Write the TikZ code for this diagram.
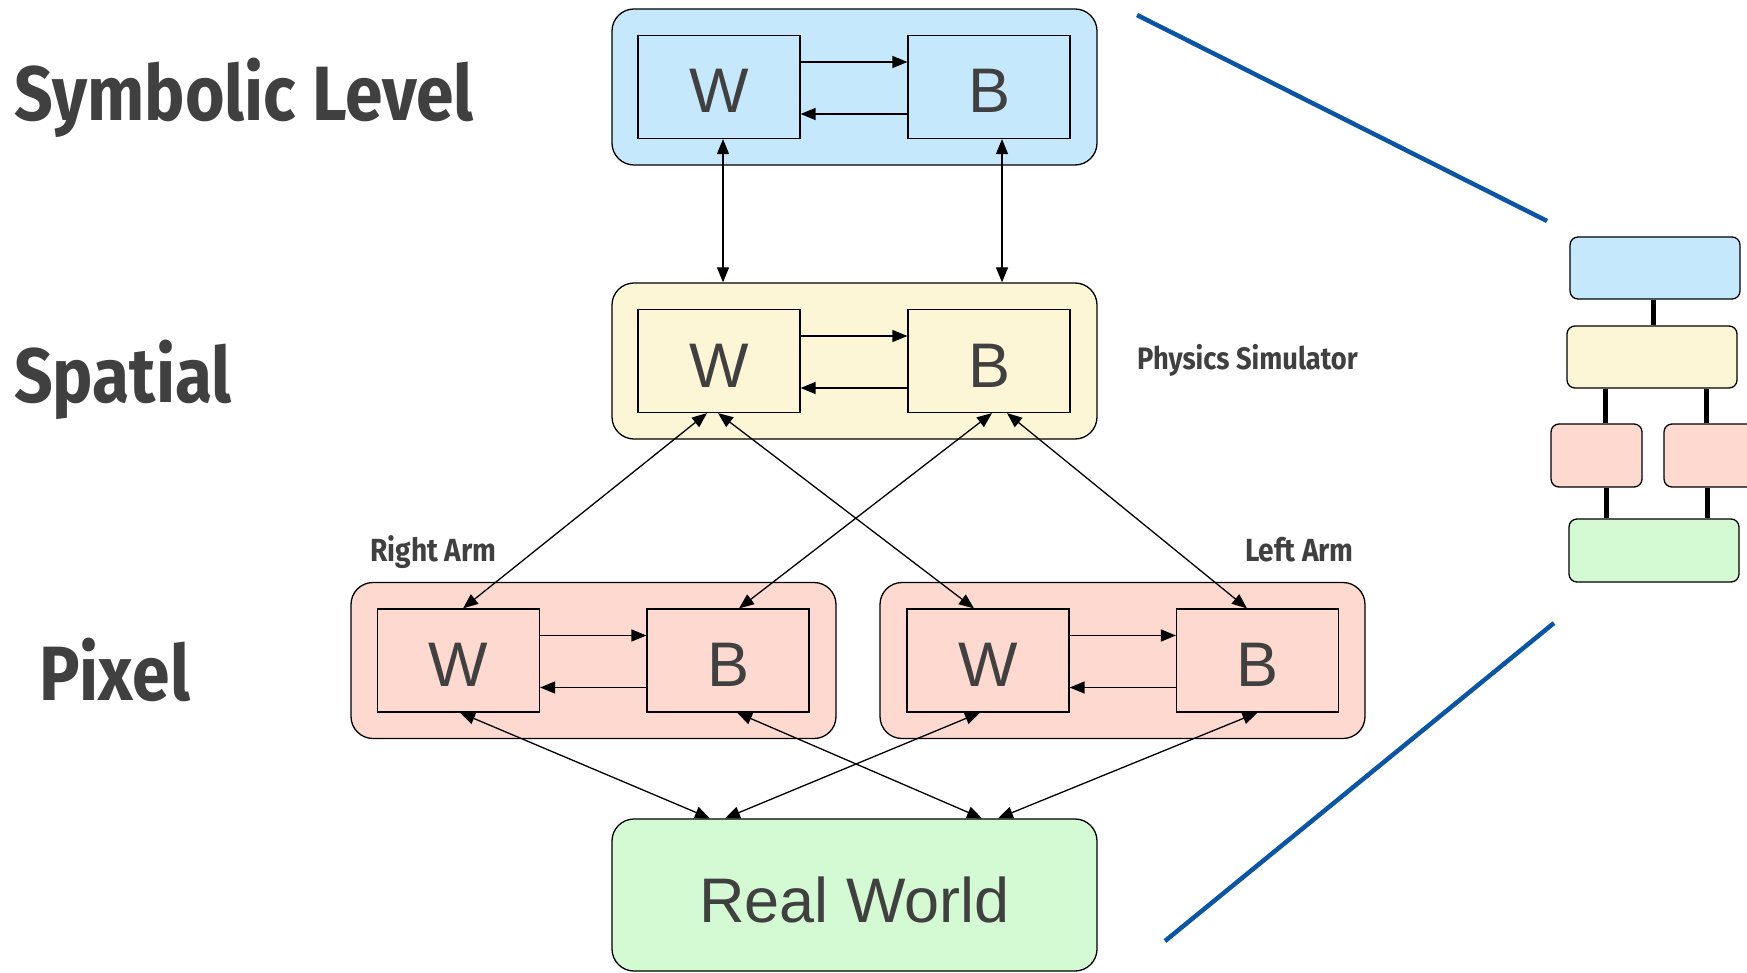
\documentclass[tikz,border=0pt]{standalone}
\usepackage{fontspec}
\setmainfont{Liberation Sans}
\newfontfamily\headfont{Fira Sans}[FakeStretch=0.88]
\usetikzlibrary{arrows.meta}
\definecolor{txt}{HTML}{404040}
\definecolor{cblue}{HTML}{C6E8FC}
\definecolor{cyellow}{HTML}{FDF6D6}
\definecolor{cpink}{HTML}{FDD9D0}
\definecolor{cgreen}{HTML}{D4FAD4}
\definecolor{lineblue}{HTML}{0A55A5}
\tikzset{
  outerbox/.style={draw=black, line width=1.3pt, rounded corners=22pt, minimum width=485pt, minimum height=156pt, inner sep=0pt},
  innerbox/.style={draw=black, line width=1.2pt, minimum width=162pt, minimum height=103pt, inner sep=0pt, text=txt, text height=52pt, text depth=0pt, font=\fontsize{63}{63}\selectfont},
  minibox/.style={draw=black, line width=1.3pt, rounded corners=8pt, inner sep=0pt},
  arr/.style={-{Triangle[length=15pt,width=12pt]}, line width=1.3pt},
  biarr/.style={{Triangle[length=15pt,width=12pt]}-{Triangle[length=15pt,width=12pt]}, line width=1.3pt},
  heading/.style={anchor=base west, inner sep=0pt, text=txt, font=\headfont\bfseries\fontsize{77}{77}\selectfont},
  sublabel/.style={anchor=base west, inner sep=0pt, text=txt, font=\headfont\bfseries\fontsize{31}{31}\selectfont},
  armlabel/.style={anchor=base west, inner sep=0pt, text=txt, font=\headfont\bfseries\fontsize{32}{32}\selectfont},
  thickline/.style={line width=5pt},
  zoomline/.style={draw=lineblue, line width=4.5pt}
}
\begin{document}
\begin{tikzpicture}[x=1pt,y=-1pt]
\clip (0,0) rectangle (1747,973);
\fill[white] (0,0) rectangle (1747,973);

% headings
\node[heading] (hsym) at (14,121) {Symbolic Level};
\node[heading] (hspa) at (14,402) {Spatial};
\node[heading] (hpix) at (39,700) {Pixel};
\node[sublabel] (lphys) at (1137,369) {Physics Simulator};
\node[armlabel] (lright) at (370,561) {Right Arm};
\node[armlabel] (lleft) at (1245,561) {Left Arm};

% symbolic level
\node[outerbox, fill=cblue] (symO) at (854.5,87) {};
\node[innerbox] (symW) at (719,87) {W};
\node[innerbox] (symB) at (989,87) {B};

% spatial level
\node[outerbox, fill=cyellow] (spaO) at (854.5,361) {};
\node[innerbox] (spaW) at (719,361) {W};
\node[innerbox] (spaB) at (989,361) {B};

% pixel level
\node[outerbox, fill=cpink] (pixL) at (593.5,660.5) {};
\node[innerbox] (plW) at (458.5,660.5) {W};
\node[innerbox] (plB) at (728,660.5) {B};
\node[outerbox, fill=cpink] (pixR) at (1122.5,660.5) {};
\node[innerbox] (prW) at (988,660.5) {W};
\node[innerbox] (prB) at (1257.5,660.5) {B};

% real world
\node[outerbox, fill=cgreen, minimum height=152pt, text=txt, text height=55pt, text depth=0pt, font=\fontsize{63}{63}\selectfont] (rw) at (854.5,895) {Real World};

% horizontal arrows inside boxes
\foreach \w/\b in {symW/symB, spaW/spaB, plW/plB, prW/prB}{
  \draw[arr] ([yshift=25pt]\w.east) -- ([yshift=25pt]\b.west);
  \draw[arr] ([yshift=-27pt]\b.west) -- ([yshift=-27pt]\w.east);
}

% symbolic <-> spatial
\draw[biarr] ([xshift=4pt]symW.south) -- ([xshift=4pt]symW.south |- spaO.north);
\draw[biarr] ([xshift=13pt]symB.south) -- ([xshift=13pt]symB.south |- spaO.north);

% spatial <-> pixel
\draw[biarr] ([xshift=-12pt]spaW.south) -- ([xshift=4.5pt]plW.north);
\draw[biarr] ([xshift=-1pt]spaW.south) -- ([xshift=-14pt]prW.north);
\draw[biarr] ([xshift=3pt]spaB.south) -- ([xshift=11pt]plB.north);
\draw[biarr] ([xshift=18pt]spaB.south) -- ([xshift=-10.5pt]prB.north);

% pixel <-> real world
\draw[biarr] ([xshift=1.5pt]plW.south) -- ([xshift=-144.5pt]rw.north);
\draw[biarr] ([xshift=-8pt]prW.south) -- ([xshift=-129.5pt]rw.north);
\draw[biarr] ([xshift=9pt]plB.south) -- ([xshift=127.5pt]rw.north);
\draw[biarr] (prB.south) -- ([xshift=143.5pt]rw.north);

% zoom lines
\coordinate (z1a) at (1137,15);
\coordinate (z1b) at (1547,221);
\coordinate (z2a) at (1165,941);
\coordinate (z2b) at (1554,623);
\draw[zoomline] (z1a) -- (z1b);
\draw[zoomline] (z2a) -- (z2b);

% mini diagram
\node[minibox, fill=cblue, minimum width=170pt, minimum height=62pt] (mb) at (1655,268) {};
\node[minibox, fill=cyellow, minimum width=170pt, minimum height=62pt] (my) at (1652,357) {};
\node[minibox, fill=cpink, minimum width=91pt, minimum height=63pt] (mpl) at (1596.5,455.5) {};
\node[minibox, fill=cpink, minimum width=96pt, minimum height=63pt] (mpr) at (1712,455.5) {};
\node[minibox, fill=cgreen, minimum width=170pt, minimum height=63pt] (mg) at (1654,550.5) {};
\coordinate (xa) at (1653,0);
\coordinate (xb) at (1605,0);
\coordinate (xc) at (1706,0);
\coordinate (xd) at (1606,0);
\coordinate (xe) at (1707,0);
\draw[thickline] (mb.south -| xa) -- (my.north -| xa);
\draw[thickline] (my.south -| xb) -- (mpl.north -| xb);
\draw[thickline] (my.south -| xc) -- (mpr.north -| xc);
\draw[thickline] (mpl.south -| xd) -- (mg.north -| xd);
\draw[thickline] (mpr.south -| xe) -- (mg.north -| xe);
\end{tikzpicture}
\end{document}
